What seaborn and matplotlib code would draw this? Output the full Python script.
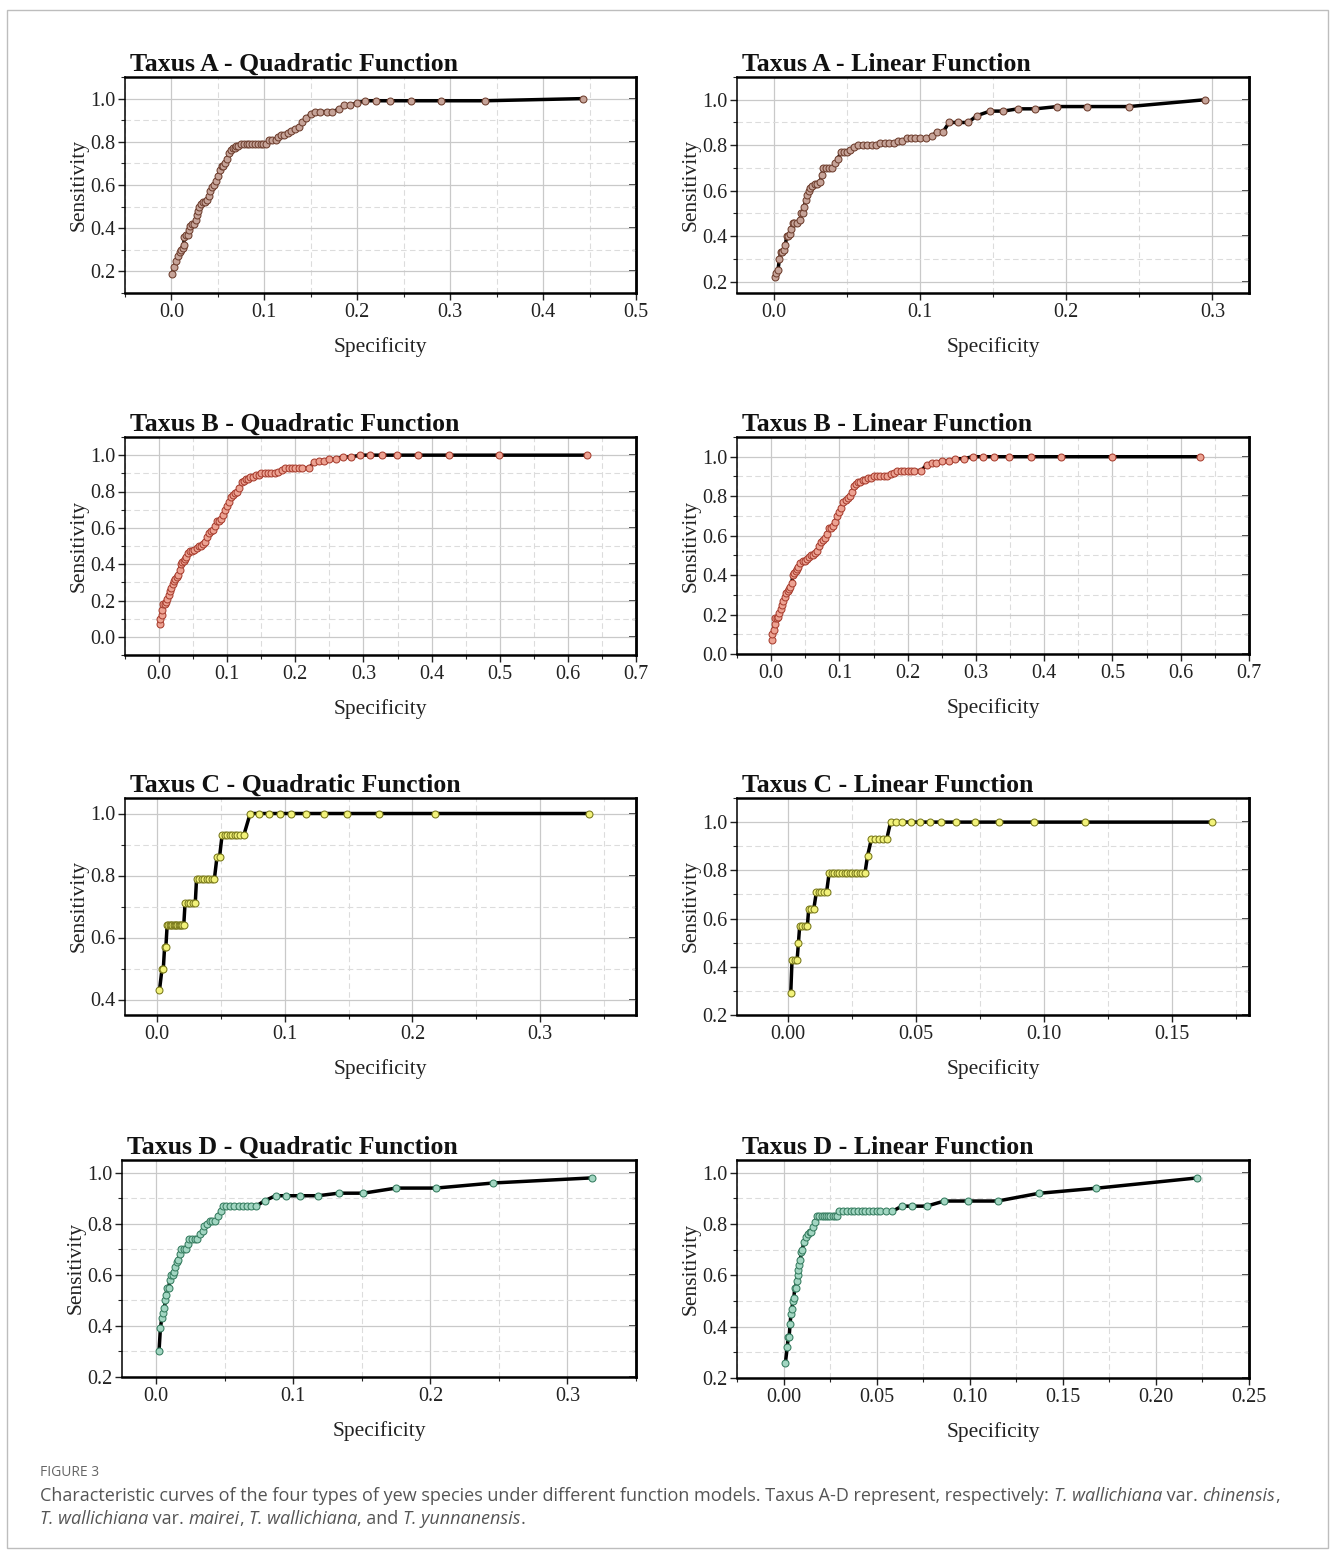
import matplotlib
matplotlib.use("Agg")
import matplotlib.pyplot as plt
import seaborn as sns
import pandas as pd
from matplotlib.ticker import MultipleLocator, FormatStrFormatter
from matplotlib.patches import Rectangle

# ---------------- data (specificity, sensitivity) ----------------
taxus_a_quad = [(0.001,0.19),(0.003,0.22),(0.005,0.25),(0.007,0.27),(0.009,0.29),(0.010,0.30),(0.012,0.31),
    (0.013,0.32),(0.014,0.36),(0.016,0.37),(0.018,0.37),(0.019,0.39),(0.020,0.41),(0.022,0.42),(0.024,0.42),
    (0.026,0.44),(0.027,0.46),(0.029,0.48),(0.030,0.50),(0.032,0.51),(0.034,0.52),(0.036,0.52),(0.038,0.53),
    (0.040,0.55),(0.042,0.57),(0.044,0.59),(0.046,0.60),(0.048,0.62),(0.050,0.64),(0.052,0.67),(0.054,0.69),
    (0.056,0.69),(0.058,0.70),(0.060,0.72),(0.062,0.75),(0.064,0.76),(0.066,0.77),(0.068,0.77),(0.070,0.78),
    (0.072,0.78),(0.075,0.79),(0.078,0.79),(0.081,0.79),(0.084,0.79),(0.087,0.79),(0.090,0.79),(0.093,0.79),
    (0.096,0.79),(0.099,0.79),(0.102,0.79),(0.105,0.81),(0.108,0.81),(0.112,0.81),(0.115,0.82),(0.118,0.83),
    (0.121,0.83),(0.125,0.84),(0.129,0.85),(0.133,0.86),(0.137,0.87),(0.141,0.89),(0.145,0.91),(0.150,0.93),
    (0.155,0.94),(0.160,0.94),(0.167,0.94),(0.173,0.94),(0.180,0.95),(0.186,0.97),(0.192,0.97),(0.200,0.98),
    (0.208,0.99),(0.220,0.99),(0.235,0.99),(0.258,0.99),(0.290,0.99),(0.338,0.99),(0.443,1.00)]

taxus_a_lin = [(0.001,0.22),(0.002,0.24),(0.003,0.25),(0.004,0.30),(0.005,0.33),(0.006,0.33),(0.007,0.34),
    (0.008,0.36),(0.009,0.40),(0.010,0.40),(0.011,0.41),(0.012,0.43),(0.013,0.46),(0.014,0.46),(0.016,0.46),
    (0.018,0.47),(0.019,0.50),(0.020,0.50),(0.021,0.53),(0.022,0.56),(0.023,0.58),(0.024,0.60),(0.025,0.61),
    (0.026,0.62),(0.028,0.63),(0.030,0.63),(0.032,0.64),(0.033,0.67),(0.034,0.70),(0.036,0.70),(0.038,0.70),
    (0.040,0.70),(0.042,0.72),(0.044,0.74),(0.046,0.77),(0.048,0.77),(0.050,0.77),(0.052,0.78),(0.055,0.79),
    (0.058,0.80),(0.061,0.80),(0.064,0.80),(0.067,0.80),(0.070,0.80),(0.073,0.81),(0.076,0.81),(0.079,0.81),
    (0.082,0.81),(0.085,0.82),(0.088,0.82),(0.091,0.83),(0.094,0.83),(0.097,0.83),(0.100,0.83),(0.104,0.83),
    (0.108,0.84),(0.112,0.86),(0.116,0.86),(0.120,0.90),(0.126,0.90),(0.133,0.90),(0.139,0.93),(0.148,0.95),
    (0.157,0.95),(0.167,0.96),(0.179,0.96),(0.194,0.97),(0.214,0.97),(0.243,0.97),(0.295,1.00)]

taxus_b_quad = [(0.001,0.07),(0.002,0.10),(0.004,0.12),(0.005,0.15),(0.006,0.18),(0.008,0.18),(0.010,0.19),
    (0.012,0.21),(0.014,0.23),(0.016,0.25),(0.018,0.27),(0.020,0.29),(0.022,0.31),(0.024,0.32),(0.026,0.33),
    (0.028,0.34),(0.030,0.37),(0.032,0.40),(0.034,0.41),(0.036,0.42),(0.038,0.43),(0.040,0.44),(0.043,0.46),
    (0.046,0.47),(0.049,0.47),(0.052,0.48),(0.055,0.49),(0.058,0.50),(0.061,0.50),(0.064,0.51),(0.067,0.52),
    (0.070,0.55),(0.073,0.57),(0.076,0.58),(0.079,0.59),(0.082,0.61),(0.085,0.64),(0.088,0.64),(0.091,0.65),
    (0.094,0.67),(0.097,0.70),(0.100,0.72),(0.103,0.74),(0.106,0.77),(0.109,0.78),(0.112,0.79),(0.115,0.80),
    (0.118,0.82),(0.121,0.85),(0.124,0.86),(0.127,0.87),(0.130,0.87),(0.134,0.88),(0.138,0.88),(0.142,0.89),
    (0.146,0.89),(0.150,0.90),(0.155,0.90),(0.160,0.90),(0.165,0.90),(0.170,0.90),(0.175,0.91),(0.180,0.92),
    (0.185,0.93),(0.190,0.93),(0.195,0.93),(0.200,0.93),(0.205,0.93),(0.210,0.93),(0.220,0.93),(0.228,0.96),
    (0.235,0.97),(0.242,0.97),(0.250,0.98),(0.260,0.98),(0.270,0.99),(0.282,0.99),(0.295,1.00),(0.310,1.00),
    (0.327,1.00),(0.349,1.00),(0.380,1.00),(0.425,1.00),(0.499,1.00),(0.628,1.00)]

taxus_b_lin = [(0.001,0.07),(0.002,0.10),(0.004,0.12),(0.005,0.15),(0.006,0.18),(0.008,0.18),(0.010,0.19),
    (0.012,0.21),(0.014,0.23),(0.016,0.25),(0.018,0.27),(0.020,0.29),(0.022,0.31),(0.024,0.32),(0.026,0.33),
    (0.028,0.34),(0.030,0.36),(0.032,0.40),(0.034,0.41),(0.036,0.42),(0.038,0.43),(0.040,0.44),(0.043,0.46),
    (0.046,0.47),(0.049,0.47),(0.052,0.48),(0.055,0.49),(0.058,0.50),(0.061,0.50),(0.064,0.51),(0.067,0.52),
    (0.070,0.55),(0.073,0.57),(0.076,0.58),(0.079,0.59),(0.082,0.61),(0.085,0.64),(0.088,0.64),(0.091,0.65),
    (0.094,0.67),(0.097,0.70),(0.100,0.72),(0.103,0.74),(0.106,0.77),(0.109,0.78),(0.112,0.79),(0.115,0.80),
    (0.118,0.82),(0.121,0.85),(0.124,0.86),(0.127,0.87),(0.130,0.87),(0.134,0.88),(0.138,0.88),(0.142,0.89),
    (0.146,0.89),(0.150,0.90),(0.155,0.90),(0.160,0.90),(0.165,0.90),(0.170,0.90),(0.175,0.91),(0.180,0.92),
    (0.185,0.93),(0.190,0.93),(0.195,0.93),(0.200,0.93),(0.205,0.93),(0.210,0.93),(0.220,0.93),(0.228,0.96),
    (0.235,0.97),(0.242,0.97),(0.250,0.98),(0.260,0.98),(0.270,0.99),(0.282,0.99),(0.295,1.00),(0.310,1.00),
    (0.327,1.00),(0.349,1.00),(0.380,1.00),(0.425,1.00),(0.499,1.00),(0.628,1.00)]

taxus_c_quad = [(0.002,0.43),(0.004,0.50),(0.005,0.50),(0.006,0.57),(0.007,0.57),(0.008,0.64),(0.009,0.64),
    (0.010,0.64),(0.011,0.64),(0.012,0.64),(0.013,0.64),(0.014,0.64),(0.015,0.64),(0.016,0.64),(0.017,0.64),
    (0.018,0.64),(0.019,0.64),(0.020,0.64),(0.021,0.64),(0.022,0.71),(0.024,0.71),(0.026,0.71),(0.028,0.71),
    (0.030,0.71),(0.031,0.79),(0.033,0.79),(0.035,0.79),(0.037,0.79),(0.039,0.79),(0.041,0.79),(0.043,0.79),
    (0.045,0.79),(0.047,0.86),(0.049,0.86),(0.051,0.93),(0.053,0.93),(0.055,0.93),(0.057,0.93),(0.059,0.93),
    (0.061,0.93),(0.063,0.93),(0.065,0.93),(0.068,0.93),(0.073,1.00),(0.080,1.00),(0.088,1.00),(0.096,1.00),
    (0.105,1.00),(0.117,1.00),(0.131,1.00),(0.149,1.00),(0.174,1.00),(0.218,1.00),(0.338,1.00)]

taxus_c_lin = [(0.0010,0.29),(0.0015,0.43),(0.0025,0.43),(0.0035,0.43),(0.0040,0.50),(0.0045,0.57),
    (0.0055,0.57),(0.0065,0.57),(0.0075,0.57),(0.0080,0.64),(0.0090,0.64),(0.0100,0.64),(0.0110,0.71),
    (0.0120,0.71),(0.0130,0.71),(0.0140,0.71),(0.0150,0.71),(0.0160,0.79),(0.0170,0.79),(0.0180,0.79),
    (0.0190,0.79),(0.0200,0.79),(0.0210,0.79),(0.0220,0.79),(0.0230,0.79),(0.0240,0.79),(0.0250,0.79),
    (0.0260,0.79),(0.0270,0.79),(0.0280,0.79),(0.0290,0.79),(0.0300,0.79),(0.0310,0.86),(0.0325,0.93),
    (0.0340,0.93),(0.0355,0.93),(0.0370,0.93),(0.0385,0.93),(0.0400,1.00),(0.0420,1.00),(0.0445,1.00),
    (0.0478,1.00),(0.0513,1.00),(0.0553,1.00),(0.0598,1.00),(0.0656,1.00),(0.0730,1.00),(0.0824,1.00),
    (0.0959,1.00),(0.1160,1.00),(0.1655,1.00)]

taxus_d_quad = [(0.002,0.30),(0.003,0.39),(0.004,0.43),(0.005,0.45),(0.006,0.47),(0.0065,0.50),(0.007,0.52),
    (0.008,0.55),(0.009,0.55),(0.010,0.58),(0.011,0.60),(0.012,0.60),(0.013,0.61),(0.014,0.63),(0.015,0.65),
    (0.016,0.66),(0.017,0.68),(0.018,0.70),(0.020,0.70),(0.022,0.70),(0.023,0.72),(0.024,0.74),(0.026,0.74),
    (0.028,0.74),(0.030,0.74),(0.032,0.76),(0.034,0.77),(0.035,0.79),(0.037,0.80),(0.039,0.81),(0.041,0.81),
    (0.043,0.81),(0.045,0.83),(0.047,0.85),(0.049,0.87),(0.051,0.87),(0.054,0.87),(0.057,0.87),(0.060,0.87),
    (0.063,0.87),(0.066,0.87),(0.069,0.87),(0.073,0.87),(0.079,0.89),(0.087,0.91),(0.095,0.91),(0.105,0.91),
    (0.118,0.91),(0.133,0.92),(0.151,0.92),(0.175,0.94),(0.204,0.94),(0.246,0.96),(0.318,0.98)]

taxus_d_lin = [(0.0010,0.26),(0.0020,0.32),(0.0025,0.36),(0.0030,0.36),(0.0035,0.41),(0.0040,0.45),
    (0.0045,0.47),(0.0050,0.50),(0.0055,0.51),(0.0060,0.55),(0.0065,0.55),(0.0070,0.58),(0.0075,0.60),
    (0.0080,0.62),(0.0085,0.64),(0.0090,0.66),(0.0095,0.69),(0.0100,0.70),(0.0110,0.73),(0.0120,0.75),
    (0.0130,0.76),(0.0140,0.77),(0.0150,0.77),(0.0160,0.79),(0.0170,0.81),(0.0180,0.83),(0.0192,0.83),
    (0.0204,0.83),(0.0216,0.83),(0.0228,0.83),(0.0240,0.83),(0.0252,0.83),(0.0264,0.83),(0.0276,0.83),
    (0.0288,0.83),(0.0300,0.85),(0.0320,0.85),(0.0340,0.85),(0.0360,0.85),(0.0380,0.85),(0.0400,0.85),
    (0.0420,0.85),(0.0440,0.85),(0.0460,0.85),(0.0480,0.85),(0.0500,0.85),(0.0520,0.85),(0.0550,0.85),
    (0.0585,0.85),(0.0635,0.87),(0.0690,0.87),(0.0768,0.87),(0.0863,0.89),(0.0990,0.89),(0.1150,0.89),
    (0.1370,0.92),(0.1680,0.94),(0.2220,0.98)]

titles = ["Taxus A - Quadratic Function", "Taxus A - Linear Function",
          "Taxus B - Quadratic Function", "Taxus B - Linear Function",
          "Taxus C - Quadratic Function", "Taxus C - Linear Function",
          "Taxus D - Quadratic Function", "Taxus D - Linear Function"]
curves = [taxus_a_quad, taxus_a_lin, taxus_b_quad, taxus_b_lin,
          taxus_c_quad, taxus_c_lin, taxus_d_quad, taxus_d_lin]

# ---------------- styling ----------------
face_colors = {"A": "#c6a398", "B": "#eda292", "C": "#f2f27a", "D": "#a2d6c2"}
edge_colors = {"A": "#6e3e2e", "B": "#a83e2f", "C": "#77771a", "D": "#357c5f"}

# per panel: xlim, ylim, x major step, x label format
xlims = [(-0.05, 0.5), (-0.025, 0.325), (-0.05, 0.7), (-0.05, 0.7),
         (-0.025, 0.375), (-0.02, 0.18), (-0.025, 0.35), (-0.025, 0.25)]
ylims = [(0.1, 1.1), (0.15, 1.1), (-0.1, 1.1), (0.0, 1.1),
         (0.35, 1.05), (0.2, 1.1), (0.2, 1.05), (0.2, 1.05)]
xsteps = [0.1, 0.1, 0.1, 0.1, 0.1, 0.05, 0.1, 0.05]
xfmts = ["%.1f", "%.1f", "%.1f", "%.1f", "%.1f", "%.2f", "%.1f", "%.2f"]

# axes boxes in pixels (left, top, right, bottom)
boxes = [(125, 77, 636, 293), (737, 77, 1249, 293),
         (125, 437, 636, 655), (737, 437, 1249, 654),
         (125, 798, 636, 1015), (737, 798, 1249, 1015),
         (122, 1160, 636, 1377), (737, 1160, 1249, 1378)]

sns.set_theme(style="white")
plt.rcParams["font.family"] = ["Liberation Serif", "DejaVu Serif"]

W, H = 1330, 1551
fig = plt.figure(figsize=(W / 100, H / 100), dpi=100)
fig.patch.set_facecolor("white")

for i, (title, data) in enumerate(zip(titles, curves)):
    l, t, r, b = boxes[i]
    ax = fig.add_axes([l / W, 1 - b / H, (r - l) / W, (b - t) / H])
    ax.set_facecolor("white")
    df = pd.DataFrame(data, columns=["Specificity", "Sensitivity"])
    key = title.split()[1]
    sns.lineplot(data=df, x="Specificity", y="Sensitivity", ax=ax, color="black",
                 lw=2.5, estimator=None, sort=False, zorder=2)
    sns.scatterplot(data=df, x="Specificity", y="Sensitivity", ax=ax, s=25,
                    color=face_colors[key], edgecolor=edge_colors[key],
                    linewidth=0.75, zorder=3)
    ax.set_xlim(*xlims[i])
    ax.set_ylim(*ylims[i])
    ax.xaxis.set_major_locator(MultipleLocator(xsteps[i]))
    ax.xaxis.set_minor_locator(MultipleLocator(xsteps[i] / 2))
    ax.xaxis.set_major_formatter(FormatStrFormatter(xfmts[i]))
    ax.yaxis.set_major_locator(MultipleLocator(0.2))
    ax.yaxis.set_minor_locator(MultipleLocator(0.1))
    ax.yaxis.set_major_formatter(FormatStrFormatter("%.1f"))
    ax.grid(which="major", color="#c9c9c9", lw=0.9, ls="-")
    ax.grid(which="minor", color="#dcdcdc", lw=0.8, ls=(0, (5, 3)))
    ax.set_axisbelow(True)
    ax.tick_params(axis="both", which="major", labelsize=14.5, length=5, width=1.0,
                   direction="out", colors="#222222", pad=2)
    ax.tick_params(axis="both", which="minor", length=3, width=0.8, direction="out")
    ax.tick_params(axis="x", which="both", bottom=True, top=False)
    ax.tick_params(axis="y", which="both", left=True, right=False)
    for side, lw in [("left", 1.1), ("bottom", 1.8), ("top", 1.8), ("right", 1.8)]:
        ax.spines[side].set_visible(True)
        ax.spines[side].set_color("black")
        ax.spines[side].set_linewidth(lw)
    sec = ax.secondary_yaxis("right")
    sec.yaxis.set_major_locator(MultipleLocator(0.2))
    sec.yaxis.set_minor_locator(MultipleLocator(0.1))
    sec.tick_params(which="major", direction="in", length=5, width=1.2, labelright=False)
    sec.tick_params(which="minor", direction="in", length=3, width=0.9, labelright=False)
    sec.spines["right"].set_linewidth(1.8)
    ax.set_xlabel("Specificity", fontsize=15.5, labelpad=11, color="#222222")
    ax.set_ylabel("Sensitivity", fontsize=15.5, labelpad=1, color="#222222")
    ax.text(0.01, 1.0 + 6 / (b - t), title, transform=ax.transAxes, fontsize=18.5,
            fontweight="bold", ha="left", va="baseline", color="#111111")

# ---------------- frame and caption ----------------
fig.add_artist(Rectangle((7 / W, 3 / H), (1328 - 7) / W, (1548 - 10) / H,
                         transform=fig.transFigure, fill=False, ec="#bdbdbd", lw=1.0))

cap_family = ["Open Sans", "DejaVu Sans"]
fig.text(40 / W, 1 - 1476 / H, "FIGURE 3", fontsize=10, color="#666666",
         family=cap_family, va="baseline")

line1 = [("Characteristic curves of the four types of yew species under different function models. "
          "Taxus A-D represent, respectively: ", "normal"),
         ("T. wallichiana", "italic"), (" var. ", "normal"), ("chinensis", "italic"), (",", "normal")]
line2 = [("T. wallichiana", "italic"), (" var. ", "normal"), ("mairei", "italic"), (", ", "normal"),
         ("T. wallichiana", "italic"), (", and ", "normal"), ("T. yunnanensis", "italic"), (".", "normal")]

renderer = fig.canvas.get_renderer()


def place_line(parts, x0, ybase, size, draw=True):
    x = x0
    artists = []
    for s, style in parts:
        tt = fig.text(x / W, 1 - ybase / H, s, fontsize=size, style=style, color="#555555",
                      family=cap_family, va="baseline", ha="left")
        w = tt.get_window_extent(renderer).width
        artists.append(tt)
        x += w
    if not draw:
        for a in artists:
            a.remove()
    return x - x0


base = 13.0
wid = place_line(line1, 40, 1501, base, draw=False)
size = base * (1241 / wid)
place_line(line1, 40, 1501, size)
place_line(line2, 40, 1524, size)

fig.savefig("out.png", dpi=100, facecolor="white")
